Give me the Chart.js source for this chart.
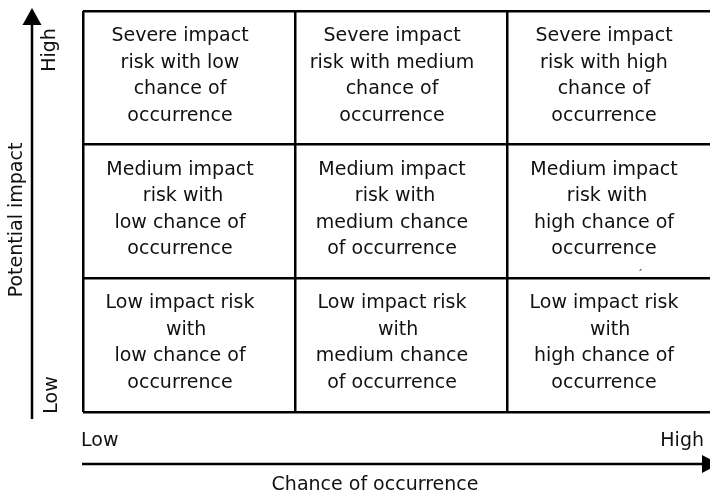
<!DOCTYPE html>
<html>
<head>
<meta charset="utf-8">
<script src="https://cdn.jsdelivr.net/npm/chart.js@4.4.0/dist/chart.umd.min.js"></script>
<style>
  html, body { margin: 0; padding: 0; background: #fff; overflow: hidden; }
  #wrap { width: 722px; height: 493px; }
</style>
</head>
<body>
<div id="wrap"><canvas id="matrix"></canvas></div>
<script>
// rows go bottom -> top (Low, Medium, Severe), columns left -> right (low, medium, high)
const impactRows = ['Low', 'Medium', 'Severe'];
const chanceCols = ['low', 'medium', 'high'];
const cellText = [
  [
    ['Low impact risk', '  with', 'low chance of', 'occurrence'],
    ['Low impact risk', '  with', 'medium chance', 'of occurrence'],
    ['Low impact risk', '  with', 'high chance of', 'occurrence']
  ],
  [
    ['Medium impact', ' risk with', 'low chance of', 'occurrence'],
    ['Medium impact', ' risk with', 'medium chance', 'of occurrence'],
    ['Medium impact', ' risk with', 'high chance of', 'occurrence']
  ],
  [
    ['Severe impact', 'risk with low', 'chance of', 'occurrence'],
    ['Severe impact', 'risk with medium', 'chance of', 'occurrence'],
    ['Severe impact', 'risk with high', 'chance of', 'occurrence']
  ]
];
const xEndLabels = ['Low', 'High'];
const yEndLabels = ['Low', 'High'];
const xTitle = 'Chance of occurrence';
const yTitle = 'Potential impact';

const FONT = '19px "DejaVu Sans", Verdana, sans-serif';
const INK = '#111';

// one invisible point per cell, at the cell centre
const cellPoints = [];
impactRows.forEach((r, ri) => {
  chanceCols.forEach((c, ci) => {
    cellPoints.push({ x: ci + 0.5, y: ri + 0.5, lines: cellText[ri][ci] });
  });
});

const cellLabels = {
  id: 'cellLabels',
  afterDatasetsDraw(chart) {
    const ctx = chart.ctx;
    const meta = chart.getDatasetMeta(0);
    ctx.save();
    ctx.font = FONT;
    ctx.fillStyle = INK;
    ctx.textAlign = 'center';
    ctx.textBaseline = 'alphabetic';
    meta.data.forEach((pt, i) => {
      const lines = cellPoints[i].lines;
      const lh = 26.5;
      lines.forEach((txt, k) => {
        ctx.fillText(txt, pt.x - 9, pt.y + 3 + (k - (lines.length - 1) / 2) * lh);
      });
    });
    ctx.restore();
  }
};

const axesArrows = {
  id: 'axesArrows',
  afterDraw(chart) {
    const ctx = chart.ctx;
    const a = chart.chartArea;
    ctx.save();
    ctx.strokeStyle = '#000';
    ctx.fillStyle = '#000';
    ctx.lineWidth = 2.5;

    // vertical arrow
    const ax = a.left - 51;
    ctx.beginPath();
    ctx.moveTo(ax, a.bottom + 7);
    ctx.lineTo(ax, a.top + 12);
    ctx.stroke();
    ctx.beginPath();
    ctx.moveTo(ax, a.top - 3);
    ctx.lineTo(ax - 9.5, a.top + 14);
    ctx.lineTo(ax + 9.5, a.top + 14);
    ctx.closePath();
    ctx.fill();

    // horizontal arrow
    const ay = a.bottom + 52;
    ctx.beginPath();
    ctx.moveTo(a.left - 1, ay);
    ctx.lineTo(704, ay);
    ctx.stroke();
    ctx.beginPath();
    ctx.moveTo(719, ay);
    ctx.lineTo(702, ay - 9);
    ctx.lineTo(702, ay + 9);
    ctx.closePath();
    ctx.fill();

    ctx.font = FONT;
    ctx.fillStyle = INK;

    // horizontal end labels and title
    ctx.textBaseline = 'alphabetic';
    ctx.textAlign = 'left';
    ctx.fillText(xEndLabels[0], a.left - 2, a.bottom + 34);
    ctx.textAlign = 'right';
    ctx.fillText(xEndLabels[1], 704, a.bottom + 34);
    ctx.textAlign = 'center';
    ctx.fillText(xTitle, 375, a.bottom + 78);

    // vertical end labels and title (rotated)
    const rot = (txt, x, y) => {
      ctx.save();
      ctx.translate(x, y);
      ctx.rotate(-Math.PI / 2);
      ctx.textAlign = 'center';
      ctx.fillText(txt, 0, 0);
      ctx.restore();
    };
    rot(yEndLabels[1], a.left - 28, a.top + 39);
    rot(yEndLabels[0], a.left - 26, a.bottom - 17);
    rot(yTitle, 22, 220);

    // small stray mark in the middle-right cell
    ctx.font = '11px "DejaVu Sans", sans-serif';
    ctx.textAlign = 'center';
    ctx.fillText('\u00b4', 640, 278);
    ctx.restore();
  }
};

const gridStyle = {
  color: '#000',
  lineWidth: 2.5,
  drawTicks: false
};

new Chart(document.getElementById('matrix'), {
  type: 'scatter',
  data: {
    datasets: [{
      data: cellPoints,
      pointRadius: 0,
      pointHoverRadius: 0,
      showLine: false
    }]
  },
  options: {
    responsive: true,
    maintainAspectRatio: false,
    animation: false,
    layout: { padding: { left: 83, top: 11, right: 3, bottom: 81 } },
    plugins: {
      legend: { display: false },
      tooltip: { enabled: false }
    },
    scales: {
      x: {
        type: 'linear',
        min: 0,
        max: chanceCols.length,
        afterBuildTicks: (s) => { s.ticks = [0, 1, 2, 3].map(v => ({ value: v })); },
        ticks: { display: false },
        grid: gridStyle,
        border: { display: false }
      },
      y: {
        type: 'linear',
        min: 0,
        max: impactRows.length,
        afterBuildTicks: (s) => { s.ticks = [0, 1, 2, 3].map(v => ({ value: v })); },
        ticks: { display: false },
        grid: gridStyle,
        border: { display: false }
      }
    }
  },
  plugins: [cellLabels, axesArrows]
});
</script>
</body>
</html>
